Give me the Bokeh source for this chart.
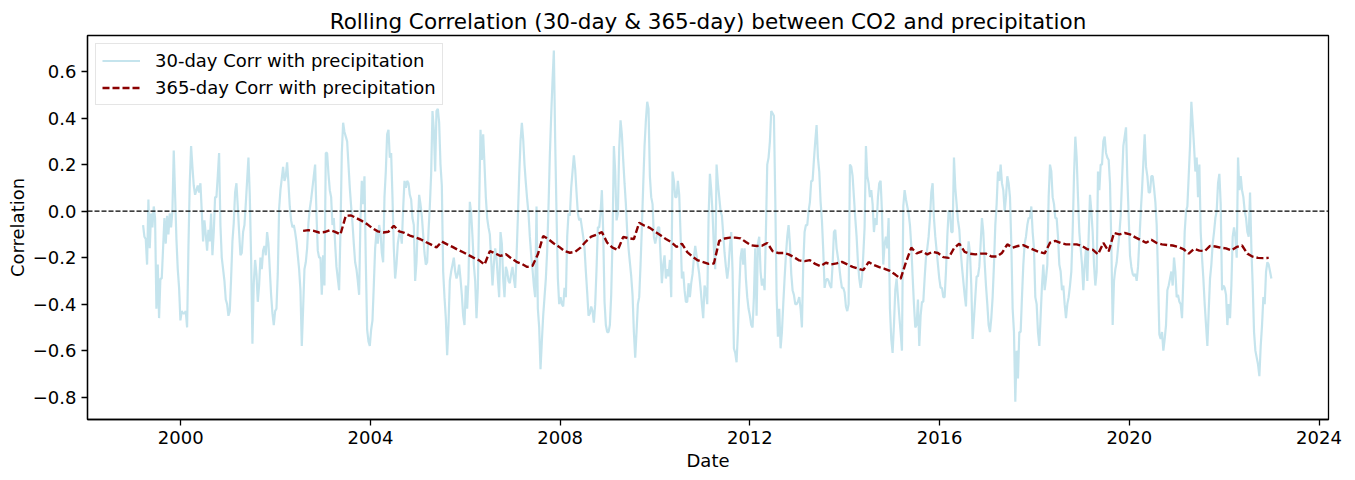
import pandas as pd
from bokeh.plotting import figure
from bokeh.models import (FixedTicker, DatetimeTickFormatter, CustomJSTickFormatter,
                          Span, Range1d)
from bokeh.embed import file_html
from bokeh.resources import INLINE

# ---------------- data ----------------
START_30 = "1999-03-17"
STEP_30 = "14790min"          # spacing of the 30-day samples (~10.3 days)

corr30_1999_2002 = [
    -0.06, -0.11, -0.12, -0.23, 0.05, -0.16, -0.01, -0.07, 0.02, -0.03,
    -0.42, -0.23, -0.46, -0.29, -0.29, -0.16, -0.03, -0.14, -0.02, -0.10,
    -0.01, -0.07, 0.00, 0.26, 0.07, -0.12, -0.25, -0.33, -0.47, -0.43,
    -0.44, -0.44, -0.43, -0.50, -0.16, 0.12, 0.28, 0.19, 0.11, 0.07,
    0.09, 0.11, 0.08, 0.12, 0.00, -0.13, -0.04, -0.10, -0.17, -0.08,
    -0.13, -0.01, -0.19, -0.09, 0.06, 0.06, 0.15, 0.25, -0.06, -0.20,
    -0.25, -0.30, -0.38, -0.40, -0.45, -0.43, -0.29, -0.13, -0.05, 0.08,
    0.12, 0.02, -0.09, -0.19, -0.18, -0.09, -0.06, 0.03, 0.13, 0.23,
    0.07, -0.20, -0.57, -0.31, -0.21, -0.27, -0.39, -0.32, -0.20, -0.25,
    -0.17, -0.15, -0.19, -0.09, -0.14, -0.25, -0.36, -0.44, -0.49, -0.43,
    -0.42, -0.27, 0.01, 0.09, 0.14, 0.19, 0.13, 0.15, 0.21, 0.12,
    0.02, -0.04, -0.07, -0.06, -0.09, -0.13, -0.19, -0.25, -0.34, -0.58,
    -0.42, -0.25,
]
corr30_2002_2007 = [
    -0.22, -0.16, -0.05, 0.01, 0.05, 0.10, 0.15, 0.20, -0.01, -0.17,
    -0.20, -0.20, -0.36, -0.19, -0.32, 0.25, 0.25, 0.16, 0.09, 0.06,
    -0.06, -0.03, -0.14, -0.24, -0.29, -0.34, -0.09, 0.25, 0.38, 0.34,
    0.32, 0.30, 0.20, 0.10, 0.02, -0.05, -0.14, -0.22, -0.25, -0.30,
    -0.36, -0.03, 0.13, 0.03, 0.15, -0.22, -0.51, -0.56, -0.58, -0.51,
    -0.47, -0.32, -0.16, -0.09, -0.14, -0.06, -0.09, -0.18, -0.22, 0.06,
    0.17, 0.33, 0.35, 0.23, 0.25, 0.06, -0.16, -0.29, -0.23, -0.14,
    -0.10, -0.09, -0.14, 0.01, 0.13, 0.10, 0.13, 0.12, 0.07, 0.05,
    -0.03, -0.06, -0.30, -0.22, -0.06, 0.07, 0.03, -0.02, -0.10, -0.18,
    -0.23, -0.22, -0.09, 0.02, 0.16, 0.43, 0.35, 0.17, 0.43, 0.44,
    0.38, 0.20, 0.11, -0.26, -0.37, -0.46, -0.62, -0.49, -0.30, -0.26,
    -0.23, -0.20, -0.26, -0.29, -0.27, -0.23, -0.29, -0.36, -0.45, -0.49,
    -0.32, -0.42, -0.29, 0.04, -0.01, -0.11, -0.23, -0.30, -0.46, -0.33,
    0.02, 0.35, 0.22, 0.33, 0.20, 0.06, -0.03, -0.07, -0.10, -0.21,
    -0.32, -0.23, -0.16, -0.20, -0.29, -0.37, -0.09, -0.14, -0.29, -0.37,
    -0.24, -0.26, -0.30, -0.31, -0.27, -0.24, -0.29, -0.33, -0.20, -0.03,
    0.15,
]
corr30_2007_2011 = [
    0.30, 0.38, 0.31, 0.20, 0.12, 0.05, -0.01, -0.11, -0.19, -0.25,
    -0.32, -0.37, 0.02, -0.42, -0.50, -0.68, -0.56, -0.45, -0.37, -0.29,
    -0.17, 0.02, 0.24, 0.41, 0.56, 0.69, 0.30, -0.01, -0.29, -0.40,
    -0.37, -0.40, -0.41, -0.33, -0.37, -0.11, -0.01, -0.02, 0.10, 0.17,
    0.24, 0.18, 0.08, -0.01, -0.04, -0.03, -0.07, -0.11, -0.16, -0.26,
    -0.35, -0.45, -0.44, -0.41, -0.43, -0.48, -0.40, -0.25, -0.07, -0.07,
    -0.01, 0.09, -0.09, -0.39, -0.49, -0.52, -0.52, -0.49, -0.36, -0.12,
    0.28, 0.17, -0.04, -0.01, 0.27, 0.39, 0.33, 0.22, 0.12, 0.03,
    -0.09, -0.16, -0.22, -0.28, -0.36, -0.52, -0.63, -0.52, -0.40, -0.37,
    -0.23, -0.07, 0.11, 0.28, 0.39, 0.47, 0.44, 0.15, 0.06, 0.03,
    -0.11, -0.14, -0.11, -0.07, -0.07, -0.19, -0.31, -0.23, -0.19, -0.29,
    -0.25, -0.28, -0.21, -0.37, 0.17, 0.13, 0.06, 0.06, 0.13, 0.07,
    -0.10, -0.29, -0.26, -0.34, -0.39, -0.39, -0.31, -0.37, -0.31, -0.27,
    -0.20, -0.15, -0.19, -0.23, -0.27, -0.33, -0.40, -0.46, -0.32, -0.34,
    -0.40, -0.03, 0.16, 0.09, -0.01, -0.16, -0.25, 0.20, 0.12, 0.06,
    0.00, -0.02, -0.10, -0.18, -0.24, -0.29, -0.24, -0.15, -0.09, -0.26,
    -0.59,
]
corr30_2011_2016 = [
    -0.61, -0.65, -0.52, -0.34, -0.20, -0.16, -0.23, -0.16, -0.29, -0.37,
    -0.42, -0.45, -0.49, -0.50, -0.37, -0.16, -0.45, -0.14, -0.11, -0.26,
    -0.32, -0.29, -0.34, -0.09, 0.20, 0.23, 0.30, 0.43, 0.42, 0.41,
    0.06, -0.36, -0.54, -0.42, -0.59, -0.52, -0.40, -0.29, -0.19, -0.11,
    -0.06, -0.14, -0.27, -0.34, -0.36, -0.40, -0.40, -0.39, -0.37, -0.42,
    -0.50, -0.23, -0.09, -0.06, -0.06, 0.00, 0.04, 0.13, 0.13, 0.22,
    0.30, 0.37, 0.23, 0.17, 0.04, -0.04, -0.17, -0.33, -0.30, -0.29,
    -0.30, -0.32, -0.33, -0.23, -0.09, -0.08, -0.16, -0.20, -0.24, -0.29,
    -0.33, -0.33, -0.35, -0.41, -0.43, -0.40, 0.20, 0.19, 0.15, 0.06,
    -0.03, -0.11, -0.22, -0.29, -0.33, -0.29, -0.19, -0.07, 0.28, 0.15,
    0.12, 0.06, 0.09, 0.03, -0.09, -0.03, -0.06, 0.06, 0.12, 0.13,
    0.00, -0.23, -0.14, -0.11, -0.16, -0.03, -0.42, -0.55, -0.61, -0.49,
    -0.34, -0.29, -0.37, -0.45, -0.52, -0.60, 0.02, 0.09, 0.05, 0.02,
    -0.01, -0.06, -0.15, -0.28, -0.40, -0.50, -0.49, -0.38, -0.58, -0.45,
    -0.39, -0.39, -0.29, -0.20, -0.16, -0.11, -0.03, 0.08, 0.12, -0.03,
    -0.11, -0.17, -0.23, -0.29, -0.33, -0.33, -0.37, -0.37, -0.26, -0.11,
    0.00,
]
corr30_2016_2020 = [
    0.00, -0.09, -0.09, 0.23, 0.10, 0.03, -0.04, -0.08, -0.17, -0.24,
    -0.30, -0.36, -0.41, -0.23, -0.13, -0.18, -0.32, -0.55, -0.46, -0.37,
    -0.28, -0.28, -0.24, -0.14, -0.03, -0.09, -0.22, -0.32, -0.40, -0.49,
    -0.52, -0.46, -0.37, -0.23, -0.06, 0.03, 0.17, 0.13, 0.20, 0.12,
    0.09, 0.00, 0.06, 0.15, 0.12, 0.06, -0.14, -0.42, -0.52, -0.82,
    -0.60, -0.72, -0.52, -0.52, -0.37, -0.23, -0.14, -0.11, -0.06, -0.03,
    -0.03, 0.02, -0.09, -0.16, -0.37, -0.40, -0.52, -0.58, -0.45, -0.32,
    -0.23, -0.34, -0.29, -0.23, 0.06, 0.20, 0.17, 0.06, 0.03, -0.03,
    -0.03, -0.11, -0.23, -0.26, -0.34, -0.32, -0.40, -0.46, -0.40, -0.37,
    -0.32, -0.26, -0.09, 0.15, 0.32, 0.23, 0.06, -0.09, -0.16, -0.23,
    -0.34, -0.23, -0.16, -0.30, -0.11, 0.07, 0.00, -0.09, -0.23, -0.32,
    -0.26, 0.17, 0.09, 0.20, 0.20, 0.30, 0.32, 0.25, 0.23, 0.22,
    0.12, -0.14, -0.49, -0.30, -0.25, -0.22, -0.16, -0.10, -0.02, 0.13,
    0.28, 0.32, 0.36, 0.14, -0.02, -0.19, -0.24, -0.27, -0.28, -0.27,
    -0.30, -0.24, -0.13, -0.01, 0.09, 0.21, 0.33, 0.19, 0.15, 0.08,
    0.08, 0.15, 0.15, 0.10, 0.04, -0.06, -0.28, -0.53, -0.55, -0.52,
    -0.60,
]
corr30_2020_2022 = [
    -0.55, -0.49, -0.34, -0.32, -0.29, -0.26, -0.32, -0.20, -0.26, -0.37,
    -0.36, -0.39, -0.40, -0.46, -0.29, -0.09, 0.00, 0.02, 0.15, 0.28,
    0.47, 0.38, 0.28, 0.17, 0.23, 0.06, 0.20, -0.09, -0.20, -0.29,
    -0.40, -0.49, -0.58, -0.43, -0.29, -0.23, -0.14, -0.09, -0.03, 0.00,
    0.12, 0.16, 0.03, -0.34, -0.32, -0.33, -0.36, -0.49, -0.40, -0.46,
    -0.32, -0.11, -0.07, -0.11, -0.20, 0.23, 0.09, 0.15, 0.09, 0.06,
    0.00, -0.03, -0.09, -0.11, 0.08, -0.16, -0.32, -0.52, -0.60, -0.63,
    -0.66, -0.71, -0.58, -0.49, -0.37, -0.40, -0.26, -0.22, -0.23, -0.26,
    -0.29,
]

OFFSET_365 = 120            # first 365-day value, counted in 30-day samples
STEP_365 = "59160min"        # spacing of the 365-day samples (~41 days)
corr365 = [
    -0.085, -0.082, -0.085, -0.092, -0.090, -0.082, -0.089, -0.100, -0.020, -0.019,
    -0.030, -0.042, -0.056, -0.074, -0.087, -0.092, -0.089, -0.063, -0.087, -0.094,
    -0.105, -0.113, -0.121, -0.133, -0.144, -0.156, -0.131, -0.143, -0.154, -0.166,
    -0.177, -0.189, -0.201, -0.212, -0.230, -0.172, -0.182, -0.193, -0.185, -0.203,
    -0.218, -0.227, -0.240, -0.235, -0.186, -0.107, -0.121, -0.139, -0.154, -0.172,
    -0.179, -0.175, -0.157, -0.131, -0.110, -0.101, -0.090, -0.136, -0.157, -0.167,
    -0.111, -0.117, -0.120, -0.050, -0.063, -0.072, -0.089, -0.104, -0.120, -0.133,
    -0.154, -0.140, -0.176, -0.196, -0.212, -0.219, -0.227, -0.225, -0.128, -0.118,
    -0.114, -0.114, -0.117, -0.133, -0.147, -0.150, -0.149, -0.137, -0.172, -0.180,
    -0.180, -0.186, -0.198, -0.212, -0.215, -0.211, -0.227, -0.237, -0.222, -0.229,
    -0.225, -0.218, -0.229, -0.240, -0.247, -0.254, -0.219, -0.232, -0.241, -0.248,
    -0.257, -0.273, -0.291, -0.220, -0.157, -0.182, -0.173, -0.186, -0.175, -0.180,
    -0.198, -0.201, -0.160, -0.140, -0.175, -0.183, -0.186, -0.183, -0.183, -0.195,
    -0.195, -0.180, -0.143, -0.157, -0.150, -0.146, -0.157, -0.167, -0.176, -0.182,
    -0.136, -0.128, -0.137, -0.143, -0.143, -0.143, -0.150, -0.164, -0.166, -0.186,
    -0.137, -0.173, -0.094, -0.100, -0.094, -0.100, -0.113, -0.124, -0.136, -0.123,
    -0.137, -0.143, -0.146, -0.148, -0.154, -0.163, -0.183, -0.162, -0.170, -0.172,
    -0.150, -0.152, -0.157, -0.160, -0.169, -0.154, -0.148, -0.183, -0.196, -0.201,
    -0.202, -0.201,
]

YEAR_TICKS = [2000, 2004, 2008, 2012, 2016, 2020, 2024]
Y_TICKS = [-0.8, -0.6, -0.4, -0.2, 0.0, 0.2, 0.4, 0.6]
X_START, X_END = "1998-01-13", "2024-03-14"
Y_START, Y_END = -0.896, 0.755

# ---------------- build series ----------------
corr30 = (corr30_1999_2002 + corr30_2002_2007 + corr30_2007_2011 +
          corr30_2011_2016 + corr30_2016_2020 + corr30_2020_2022)
dates30 = pd.date_range(START_30, periods=len(corr30), freq=STEP_30)
dates365 = pd.date_range(dates30[OFFSET_365], periods=len(corr365), freq=STEP_365)

FONT = "DejaVu Sans"
FS = "18px"

p = figure(frame_width=1241, frame_height=384, x_axis_type="datetime",
           output_backend="svg", toolbar_location=None,
           x_range=Range1d(pd.Timestamp(X_START), pd.Timestamp(X_END)),
           y_range=Range1d(Y_START, Y_END),
           min_border_left=87, min_border_right=27,
           min_border_top=35, min_border_bottom=61,
           title="Rolling Correlation (30-day & 365-day) between CO2 and precipitation")

p.title.align = "center"
p.title.text_font = FONT
p.title.text_font_size = "21.5px"
p.title.text_font_style = "normal"
p.title.text_color = "black"
p.title.standoff = 3

p.background_fill_color = "white"
p.border_fill_color = "white"
p.outline_line_color = "black"
p.outline_line_width = 1.3
p.xgrid.visible = False
p.ygrid.visible = False

p.line(dates30, corr30, line_color="lightblue", line_alpha=0.7, line_width=2.2,
       legend_label="30-day Corr with precipitation")
p.line(dates365, corr365, line_color="darkred", line_width=2.4, line_dash="7 3",
       legend_label="365-day Corr with precipitation")

p.add_layout(Span(location=0, dimension="width", line_color="black",
                  line_width=1.2, line_dash="5 2"))

# axes
p.xaxis.ticker = FixedTicker(ticks=[pd.Timestamp(f"{y}-01-01").value // 10**6
                                    for y in YEAR_TICKS])
p.xaxis.formatter = DatetimeTickFormatter(years="%Y", months="%Y", days="%Y",
                                          hours="%Y", minutes="%Y", seconds="%Y")
p.yaxis.ticker = FixedTicker(ticks=Y_TICKS)
p.yaxis.formatter = CustomJSTickFormatter(
    code="return tick.toFixed(1).replace('-', '\u2212');")

for ax in (p.xaxis[0], p.yaxis[0]):
    ax.axis_line_color = "black"
    ax.axis_line_width = 1.3
    ax.major_tick_line_color = "black"
    ax.major_tick_line_width = 1.3
    ax.major_tick_in = 0
    ax.major_tick_out = 6
    ax.minor_tick_line_color = None
    ax.major_label_text_font = FONT
    ax.major_label_text_font_size = FS
    ax.major_label_text_color = "black"
    ax.major_label_standoff = 5
    ax.axis_label_text_font = FONT
    ax.axis_label_text_font_size = FS
    ax.axis_label_text_font_style = "normal"
    ax.axis_label_text_color = "black"

p.xaxis.axis_label = "Date"
p.xaxis.axis_label_standoff = 3
p.yaxis.axis_label = "Correlation"
p.yaxis.axis_label_standoff = 2

# legend
lg = p.legend[0]
lg.location = "top_left"
lg.margin = 8
lg.padding = 6
lg.spacing = 6
lg.glyph_width = 38
lg.glyph_height = 21
lg.label_standoff = 15
lg.label_text_font = FONT
lg.label_text_font_size = FS
lg.label_text_color = "black"
lg.border_line_color = "#cccccc"
lg.border_line_width = 1.2
lg.background_fill_color = "white"
lg.background_fill_alpha = 0.8

open("out.html", "w").write(file_html(p, INLINE))
